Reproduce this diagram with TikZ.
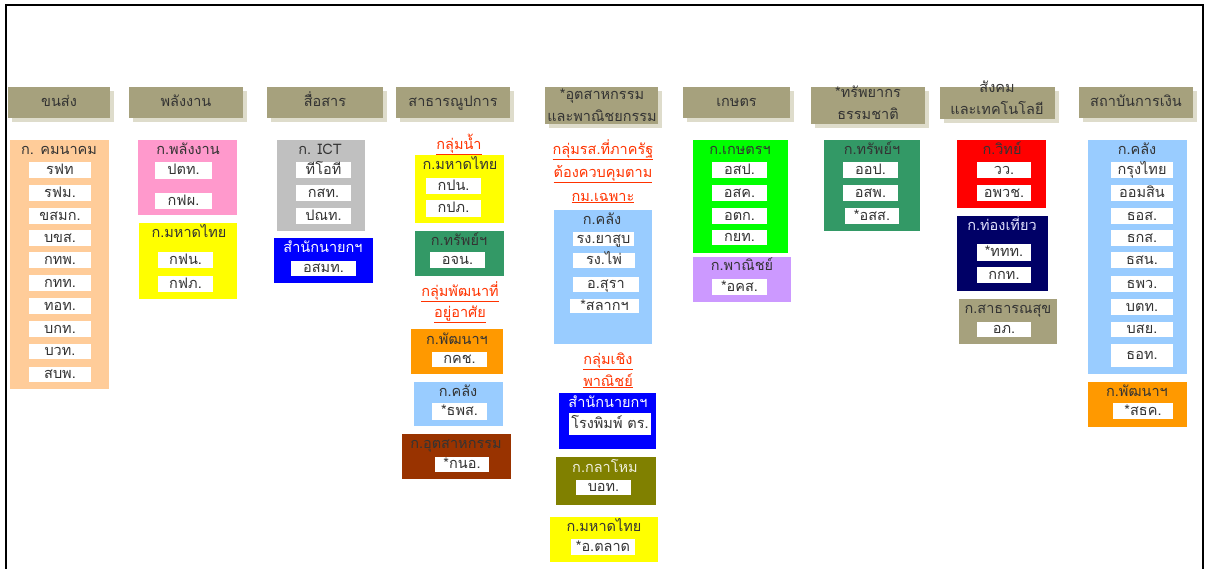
\documentclass[tikz,border=0pt]{standalone}
\usepackage{fontspec}
\newfontfamily\thai[Script=Thai]{Loma}
\usetikzlibrary{shadows}
\definecolor{txt}{HTML}{333333}
\definecolor{hdrc}{HTML}{A6A17D}
\definecolor{shadc}{HTML}{DEDCCB}
\definecolor{peach}{HTML}{FFCC99}
\definecolor{pink}{HTML}{FF99CC}
\definecolor{yel}{HTML}{FFFF00}
\definecolor{gry}{HTML}{C0C0C0}
\definecolor{blu}{HTML}{0000FF}
\definecolor{sea}{HTML}{339966}
\definecolor{org}{HTML}{FF9900}
\definecolor{lblue}{HTML}{99CCFF}
\definecolor{brn}{HTML}{993300}
\definecolor{olv}{HTML}{808000}
\definecolor{lime}{HTML}{00FF00}
\definecolor{lav}{HTML}{CC99FF}
\definecolor{rd}{HTML}{FF0000}
\definecolor{nvy}{HTML}{000066}
\definecolor{grpc}{HTML}{FF3300}
\tikzset{
  every node/.style={font=\thai\fontsize{14.5}{22}\selectfont, text=txt, inner sep=0pt, outer sep=0pt, text height=8.3pt, text depth=0pt},
  hdr/.style={fill=hdrc, text=txt, drop shadow={shadow xshift=4pt, shadow yshift=-4pt, fill=shadc, opacity=1}},
  wbs/.style={fill=white},
  grp/.style={text=grpc},
}
\newcommand{\mybox}[7]{\node[#2, anchor=north west, minimum width={(#5-#3)*1pt}, minimum height={(#6-#4)*1pt}] (#1) at (#3,#4) {#7};}
\newcommand{\wbx}[6]{\mybox{#1}{wbs}{#2}{#3}{#4}{#5}{#6}}
\begin{document}
\begin{tikzpicture}[x=1pt,y=-1pt]
\useasboundingbox (0,0) rectangle (1210,568);
\draw[line width=2pt] (6,570) -- (6,5) -- (1203,5) -- (1203,570);
% headers
\mybox{h1}{hdr}{8}{87}{110}{118}{ขนส่ง}
\mybox{h2}{hdr}{129}{87}{243}{118}{พลังงาน}
\mybox{h3}{hdr}{267}{87}{383}{118}{สื่อสาร}
\mybox{h4}{hdr}{396}{87}{510}{118}{สาธารณูปการ}
\mybox{h5}{hdr}{545}{87}{658}{124}{}
\node (h5a) at (602,95) {*อุตสาหกรรม};
\node (h5b) at (602,117) {และพาณิชยกรรม};
\mybox{h6}{hdr}{683}{87}{790}{118}{เกษตร}
\mybox{h7}{hdr}{811}{87}{925}{124}{}
\node (h7a) at (868,93) {*ทรัพยากร};
\node (h7b) at (868,115) {ธรรมชาติ};
\mybox{h8}{hdr}{940}{87}{1055}{119}{}
\node (h8a) at (997,88) {สังคม};
\node (h8b) at (997,110) {และเทคโนโลยี};
\mybox{h9}{hdr}{1079}{87}{1193}{118}{สถาบันการเงิน}
% column 1
\mybox{b1}{fill=peach}{10}{140}{109}{389}{}
\node (t1) at (59,150) {ก. คมนาคม};
\wbx{w1a}{29}{162}{91}{178}{รฟท}
\wbx{w1b}{29}{185}{91}{201}{รฟม.}
\wbx{w1c}{29}{208}{91}{224}{ขสมก.}
\wbx{w1d}{29}{230}{91}{246}{บขส.}
\wbx{w1e}{29}{252}{91}{268}{กทพ.}
\wbx{w1f}{29}{275}{91}{291}{กทท.}
\wbx{w1g}{29}{298}{91}{314}{ทอท.}
\wbx{w1h}{29}{321}{91}{337}{บกท.}
\wbx{w1i}{29}{344}{91}{359}{บวท.}
\wbx{w1j}{29}{367}{91}{382}{สบพ.}
% column 2
\mybox{b2}{fill=pink}{138}{140}{237}{215}{}
\node (t2) at (188,150) {ก.พลังงาน};
\wbx{w2a}{155}{162}{212}{179}{ปตท.}
\wbx{w2b}{155}{193}{212}{209}{กฟผ.}
\mybox{b3}{fill=yel}{139}{223}{237}{299}{}
\node (t3) at (189,233) {ก.มหาดไทย};
\wbx{w3a}{158}{252}{213}{268}{กฟน.}
\wbx{w3b}{158}{276}{213}{292}{กฟภ.}
% column 3
\mybox{b4}{fill=gry}{277}{140}{365}{231}{}
\node (t4) at (320,150) {ก. ICT};
\wbx{w4a}{296}{162}{351}{178}{ทีโอที}
\wbx{w4b}{296}{185}{351}{201}{กสท.}
\wbx{w4c}{296}{208}{351}{224}{ปณท.}
\mybox{b5}{fill=blu}{274}{238}{373}{283}{}
\node[text=white] (t5) at (323,248) {สำนักนายกฯ};
\wbx{w5a}{291}{261}{356}{276}{อสมท.}
% column 4
\node[grp] (g1) at (459,145) {\underline{กลุ่มน้ำ}};
\mybox{b6}{fill=yel}{415}{155}{504}{223}{}
\node (t6) at (460,165) {ก.มหาดไทย};
\wbx{w6a}{426}{178}{481}{194}{กปน.}
\wbx{w6b}{426}{200}{481}{217}{กปภ.}
\mybox{b7}{fill=sea}{415}{231}{504}{276}{}
\node (t7) at (459,241) {ก.ทรัพย์ฯ};
\wbx{w7a}{430}{252}{485}{268}{อจน.}
\node[grp] (g2) at (460,292) {\underline{กลุ่มพัฒนาที่}};
\node[grp] (g3) at (460,313) {\underline{อยู่อาศัย}};
\mybox{b8}{fill=org}{411}{329}{503}{374}{}
\node (t8) at (457,340) {ก.พัฒนาฯ};
\wbx{w8a}{432}{352}{487}{367}{กคช.}
\mybox{b9}{fill=lblue}{414}{382}{503}{426}{}
\node (t9) at (458,392) {ก.คลัง};
\wbx{w9a}{432}{403}{487}{420}{*ธพส.}
\mybox{b10}{fill=brn}{402}{434}{511}{479}{}
\node (t10) at (456,444) {ก.อุตสาหกรรม};
\wbx{w10a}{435}{457}{489}{472}{*กนอ.}
% column 5
\node[grp] (g4) at (603,150) {\underline{กลุ่มรส.ที่ภาครัฐ}};
\node[grp] (g5) at (603,173) {\underline{ต้องควบคุมตาม}};
\node[grp] (g6) at (603,197) {\underline{กม.เฉพาะ}};
\mybox{b11}{fill=lblue}{554}{210}{652}{344}{}
\node (t11) at (602,220) {ก.คลัง};
\wbx{w11a}{573}{232}{634}{246}{รง.ยาสูบ}
\wbx{w11b}{573}{253}{635}{268}{รง.ไพ่}
\wbx{w11c}{573}{277}{639}{292}{อ.สุรา}
\wbx{w11d}{570}{299}{639}{313}{*สลากฯ}
\node[grp] (g7) at (608,360) {\underline{กลุ่มเชิง}};
\node[grp] (g8) at (608,382) {\underline{พาณิชย์}};
\mybox{b12}{fill=blu}{559}{393}{656}{449}{}
\node[text=white] (t12) at (608,403) {สำนักนายกฯ};
\wbx{w12a}{569}{413}{651}{435}{โรงพิมพ์ ตร.}
\mybox{b13}{fill=olv}{556}{457}{656}{505}{}
\node[text=white!88!olv] (t13) at (605,468) {ก.กลาโหม};
\wbx{w13a}{576}{480}{631}{495}{บอท.}
\mybox{b14}{fill=yel}{550}{517}{658}{562}{}
\node (t14) at (604,527) {ก.มหาดไทย};
\wbx{w14a}{571}{539}{635}{555}{*อ.ตลาด}
% column 6
\mybox{b15}{fill=lime}{693}{140}{788}{253}{}
\node (t15) at (740,150) {ก.เกษตรฯ};
\wbx{w15a}{712}{162}{767}{178}{อสป.}
\wbx{w15b}{712}{185}{767}{201}{อสค.}
\wbx{w15c}{712}{208}{767}{224}{อตก.}
\wbx{w15d}{712}{230}{767}{245}{กยท.}
\mybox{b16}{fill=lav}{693}{257}{791}{302}{}
\node (t16) at (742,266) {ก.พาณิชย์};
\wbx{w16a}{712}{279}{767}{295}{*อคส.}
% column 7
\mybox{b17}{fill=sea}{824}{140}{920}{231}{}
\node (t17) at (872,150) {ก.ทรัพย์ฯ};
\wbx{w17a}{843}{162}{898}{178}{ออป.}
\wbx{w17b}{843}{185}{898}{201}{อสพ.}
\wbx{w17c}{845}{208}{899}{224}{*อสส.}
% column 8
\mybox{b18}{fill=rd}{957}{140}{1046}{208}{}
\node (t18) at (1002,150) {ก.วิทย์};
\wbx{w18a}{977}{162}{1031}{178}{วว.}
\wbx{w18b}{977}{185}{1031}{201}{อพวช.}
\mybox{b19}{fill=nvy}{957}{216}{1048}{291}{}
\node[text=white!90!blue] (t19) at (1002,226) {ก.ท่องเที่ยว};
\wbx{w19a}{977}{244}{1031}{261}{*ททท.}
\wbx{w19b}{977}{267}{1031}{283}{กกท.}
\mybox{b20}{fill=hdrc}{959}{299}{1057}{344}{}
\node (t20) at (1008,309) {ก.สาธารณสุข};
\wbx{w20a}{977}{322}{1031}{337}{อภ.}
% column 9
\mybox{b21}{fill=lblue}{1088}{140}{1187}{374}{}
\node (t21) at (1137,150) {ก.คลัง};
\wbx{w21a}{1111}{162}{1173}{178}{กรุงไทย}
\wbx{w21b}{1111}{185}{1173}{201}{ออมสิน}
\wbx{w21c}{1111}{208}{1173}{224}{ธอส.}
\wbx{w21d}{1111}{230}{1173}{246}{ธกส.}
\wbx{w21e}{1111}{252}{1173}{268}{ธสน.}
\wbx{w21f}{1111}{276}{1173}{292}{ธพว.}
\wbx{w21g}{1111}{299}{1173}{315}{บตท.}
\wbx{w21h}{1111}{322}{1173}{337}{บสย.}
\wbx{w21i}{1111}{344}{1173}{367}{ธอท.}
\mybox{b22}{fill=org}{1088}{382}{1187}{427}{}
\node (t22) at (1137,392) {ก.พัฒนาฯ};
\wbx{w22a}{1113}{403}{1173}{419}{*สธค.}
\end{tikzpicture}
\end{document}
